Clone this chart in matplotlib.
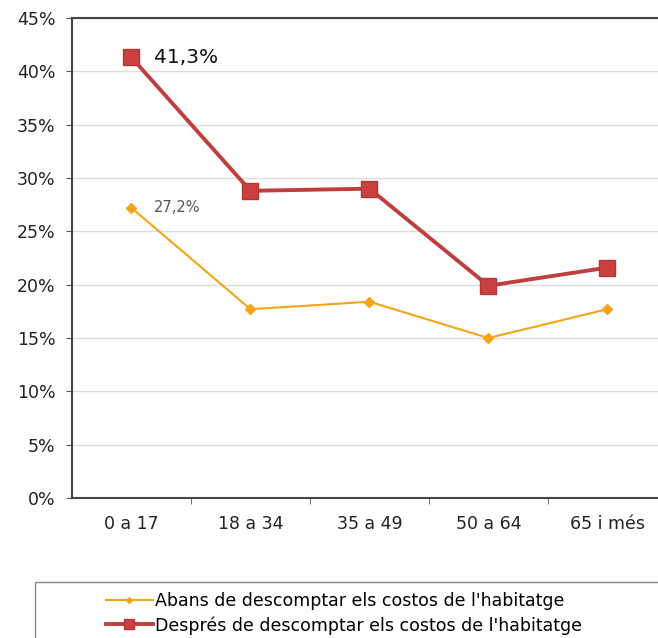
import matplotlib.pyplot as plt
from matplotlib.patches import Rectangle

plt.rcParams["font.family"] = ["DejaVu Sans"]

categories = ["0 a 17", "18 a 34", "35 a 49", "50 a 64", "65 i més"]
abans = [27.2, 17.7, 18.4, 15.0, 17.7]
despres = [41.3, 28.8, 29.0, 19.9, 21.6]
yticks = [0, 5, 10, 15, 20, 25, 30, 35, 40, 45]
label_abans = "Abans de descomptar els costos de l'habitatge"
label_despres = "Després de descomptar els costos de l'habitatge"

fig = plt.figure(figsize=(6.58, 6.38), dpi=100)
ax = fig.add_axes([0.1094, 0.2194, 0.904, 0.7524])

x = list(range(len(categories)))
ax.plot(x, abans, color="#f2a516", lw=1.5, marker="D", ms=5,
        label=label_abans, zorder=3)
ax.plot(x, despres, color="#bf3f3f", lw=2.8, marker="s", ms=12,
        mfc="#c9403e", mec="#b03838", label=label_despres, zorder=4)

ax.annotate("41,3%", (0, despres[0]), xytext=(16, 0), textcoords="offset points",
            fontsize=14.5, va="center", color="#111111")
ax.annotate("27,2%", (0, abans[0]), xytext=(16, 0), textcoords="offset points",
            fontsize=10.5, va="center", color="#555555")

ax.set_xlim(-0.5, len(categories) - 0.5)
ax.set_ylim(0, 45)
ax.set_yticks(yticks)
ax.set_yticklabels([f"{v}%" for v in yticks], fontsize=12.5, color="#222222")
ax.set_xticks(x)
ax.set_xticklabels(categories, fontsize=12.5, color="#222222")
ax.set_xticks([i + 0.5 for i in x[:-1]], minor=True)
ax.tick_params(axis="x", which="major", length=0, pad=12)
ax.tick_params(axis="x", which="minor", length=4, color="#555555")
ax.tick_params(axis="y", length=4, color="#555555", pad=8)
ax.grid(axis="y", color="#dddddd", lw=1)
ax.set_axisbelow(True)
for side in ["left", "bottom", "top"]:
    ax.spines[side].set_color("#444444")
    ax.spines[side].set_linewidth(1.5)
ax.spines["right"].set_visible(False)

fig.patches.append(Rectangle((0.053, -0.05), 1.0, 0.1378, transform=fig.transFigure,
                             fill=False, ec="#888888", lw=1))
fig.legend(loc="upper left", bbox_to_anchor=(0.15, 0.083), frameon=False,
           fontsize=12.5, handlelength=2.7, handletextpad=0.15, labelspacing=0.35,
           markerscale=0.6, borderaxespad=0)

fig.savefig("out.png", dpi=100)
